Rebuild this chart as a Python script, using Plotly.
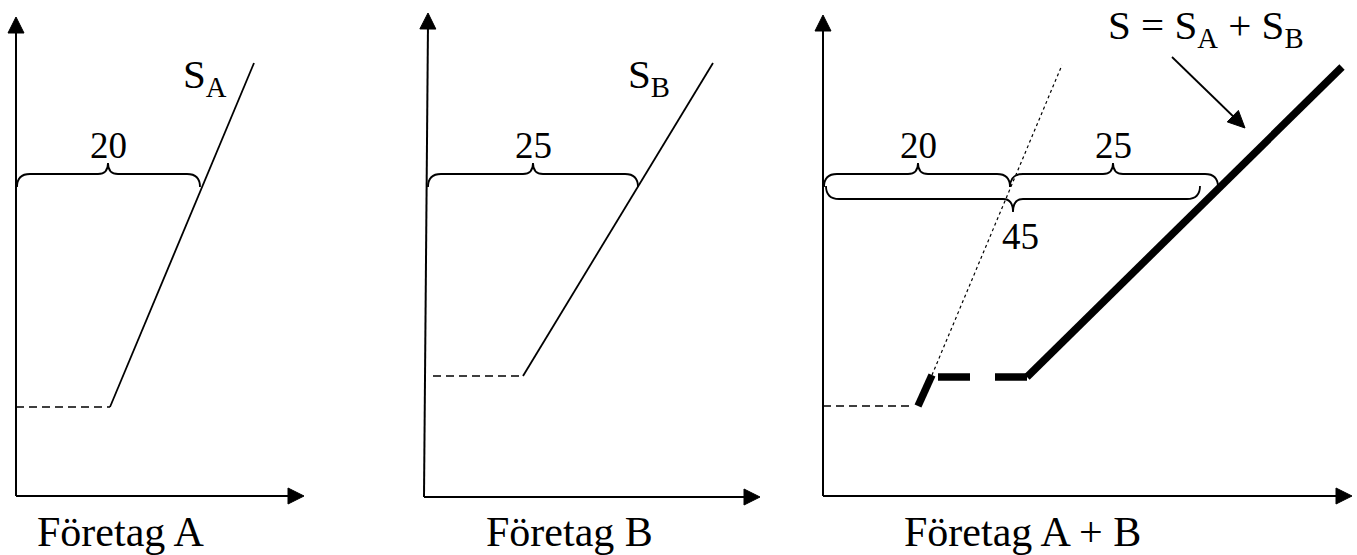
import plotly.graph_objects as go

W, H = 1357, 555
FONT = "Liberation Serif, Times New Roman, Times, serif"

# ---- axes (origin, y-axis tip, x-axis tip) for the three panels ----
panel_names = ["Företag A", "Företag B", "Företag A + B"]
axis_origin_x = [16, 424, 823]
axis_origin_y = [496, 497, 496]
yaxis_tip_x = [16, 428, 823]
yaxis_tip_y = [17, 13, 15]
xaxis_tip_x = [304, 760, 1352]
panel_label_x = [120, 569, 1022]
panel_label_y = [532, 532, 532]

# ---- supply curves ----
SA_x = [110, 254]
SA_y = [407, 63]
SA_floor_x = [16, 110]
SA_floor_y = [407, 407]

SB_x = [523, 713]
SB_y = [376, 63]
SB_floor_x = [433, 523]
SB_floor_y = [376, 376]

# panel C
SC_floor_x = [823, 913]
SC_floor_y = [406, 406]
SC_steep_x = [918, 932]
SC_steep_y = [406, 375]
SC_dotted_x = [932, 1062]
SC_dotted_y = [375, 65]
SC_gap_x = [938, 970, None, 995, 1027]
SC_gap_y = [377, 377, None, 377, 377]
SC_total_x = [1027, 1342]
SC_total_y = [377, 67]

# ---- braces: (x0, x1, tip_x, y_end, y_flat, y_tip) ----
braces = [
    (17, 200, 108, 187, 174, 163),
    (428, 638, 533, 187, 174, 163),
    (824, 1010, 918, 187, 174, 163),
    (1010, 1218, 1113, 187, 174, 163),
    (826, 1200, 1013, 186, 199, 212),
]
brace_labels = ["20", "25", "20", "25", "45"]
brace_label_x = [108, 533, 918, 1113, 1020]
brace_label_y = [145, 145, 145, 145, 236]

# ---- curve labels ----
curve_labels = ["S<sub>A</sub>", "S<sub>B</sub>", "S = S<sub>A</sub> + S<sub>B</sub>"]
curve_label_x = [181, 626, 1106]
curve_label_y = [77, 77, 28]

# pointer arrow in panel C
pointer_x = [1172, 1245]
pointer_y = [57, 128]

fig = go.Figure()


def line(xs, ys, width=1.8, dash="solid"):
    fig.add_trace(go.Scatter(x=xs, y=ys, mode="lines",
                             line=dict(color="black", width=width, dash=dash),
                             hoverinfo="skip", showlegend=False))


def arrowhead(fx, fy, tx, ty, length=16, half=8):
    dx, dy = tx - fx, ty - fy
    n = (dx * dx + dy * dy) ** 0.5
    ux, uy = dx / n, dy / n
    bx, by = tx - ux * length, ty - uy * length
    px, py = -uy, ux
    xs = [tx, bx + px * half, bx - px * half, tx]
    ys = [ty, by + py * half, by - py * half, ty]
    fig.add_trace(go.Scatter(x=xs, y=ys, mode="lines", fill="toself",
                             fillcolor="black", line=dict(color="black", width=1),
                             hoverinfo="skip", showlegend=False))


# axes with arrowheads
for i in range(3):
    ox, oy = axis_origin_x[i], axis_origin_y[i]
    line([ox, yaxis_tip_x[i]], [oy, yaxis_tip_y[i] + 10], width=2)
    arrowhead(ox, oy, yaxis_tip_x[i], yaxis_tip_y[i])
    line([ox, xaxis_tip_x[i] - 10], [oy, oy], width=2)
    arrowhead(ox, oy, xaxis_tip_x[i], oy)

# curves
line(SA_x, SA_y, width=1.8)
line(SA_floor_x, SA_floor_y, width=1.3, dash="8px,5px")
line(SB_x, SB_y, width=1.8)
line(SB_floor_x, SB_floor_y, width=1.3, dash="8px,5px")
line(SC_floor_x, SC_floor_y, width=1.3, dash="8px,5px")
line(SC_dotted_x, SC_dotted_y, width=1.2, dash="dot")
line(SC_steep_x, SC_steep_y, width=7.5)
line(SC_gap_x, SC_gap_y, width=7.5)
line(SC_total_x, SC_total_y, width=7.5)

# pointer arrow
line([pointer_x[0], pointer_x[1] - 6], [pointer_y[0], pointer_y[1] - 6], width=1.8)
arrowhead(pointer_x[0], pointer_y[0], pointer_x[1], pointer_y[1], length=17, half=8)

# braces
shapes = []
for (x0, x1, xm, ye, yf, yt) in braces:
    r0 = 13 if x1 > x0 else -13
    rm = 10
    path = (f"M{x0},{ye} Q{x0},{yf} {x0 + r0},{yf} L{xm - rm},{yf} "
            f"Q{xm},{yf} {xm},{yt} Q{xm},{yf} {xm + rm},{yf} "
            f"L{x1 - r0},{yf} Q{x1},{yf} {x1},{ye}")
    shapes.append(dict(type="path", path=path, xref="x", yref="y",
                       line=dict(color="black", width=1.8)))

annotations = []
for t, x, y in zip(brace_labels, brace_label_x, brace_label_y):
    annotations.append(dict(x=x, y=y, text=t, showarrow=False, xanchor="center",
                            yanchor="middle", font=dict(family=FONT, size=37, color="black")))
for t, x, y in zip(curve_labels, curve_label_x, curve_label_y):
    annotations.append(dict(x=x, y=y, text=t, showarrow=False, xanchor="left",
                            yanchor="middle", font=dict(family=FONT, size=41, color="black")))
for t, x, y in zip(panel_names, panel_label_x, panel_label_y):
    annotations.append(dict(x=x, y=y, text=t, showarrow=False, xanchor="center",
                            yanchor="middle", font=dict(family=FONT, size=42, color="black")))

fig.update_layout(
    width=W, height=H,
    margin=dict(l=0, r=0, t=0, b=0),
    paper_bgcolor="white", plot_bgcolor="white",
    xaxis=dict(range=[0, W], visible=False, fixedrange=True),
    yaxis=dict(range=[H, 0], visible=False, fixedrange=True),
    shapes=shapes, annotations=annotations,
    showlegend=False,
)
fig.write_html(
    "out.html",
    config={"displayModeBar": False},
    post_script="document.body.style.margin='0';document.body.style.overflow='hidden';",
)
